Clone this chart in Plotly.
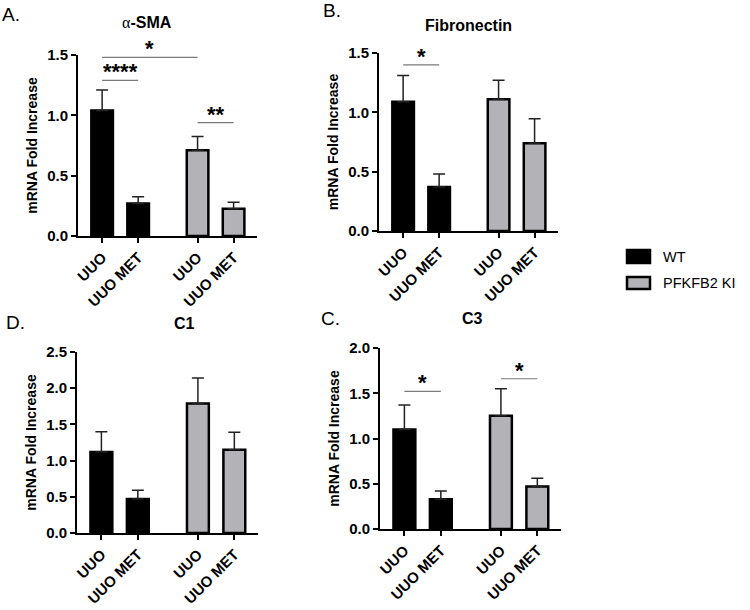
import plotly.graph_objects as go

W, H = 750, 610

# ---------------- data ----------------
categories = ["UUO", "UUO MET"]
series_names = ["WT", "PFKFB2 KI"]

sma_wt = [1.04, 0.27]
sma_wt_err = [0.17, 0.055]
sma_ki = [0.71, 0.225]
sma_ki_err = [0.115, 0.055]

fn_wt = [1.09, 0.37]
fn_wt_err = [0.22, 0.11]
fn_ki = [1.11, 0.74]
fn_ki_err = [0.16, 0.205]

c1_wt = [1.12, 0.47]
c1_wt_err = [0.28, 0.12]
c1_ki = [1.79, 1.15]
c1_ki_err = [0.35, 0.24]

c3_wt = [1.10, 0.33]
c3_wt_err = [0.27, 0.09]
c3_ki = [1.25, 0.47]
c3_ki_err = [0.30, 0.09]

# significance: (bar index from, bar index to, height, label)
sma_sig = [(0, 2, 1.48, "*"), (0, 1, 1.29, "****"), (2, 3, 0.94, "**")]
fn_sig = [(0, 1, 1.40, "*")]
c1_sig = []
c3_sig = [(0, 1, 1.52, "*"), (2, 3, 1.66, "*")]

titles = ['<span style="font-family:Liberation Serif;font-weight:normal">α</span>-SMA',
          "Fibronectin", "C1", "C3"]
letters = ["A.", "B.", "D.", "C."]
y_max = [1.5, 1.5, 2.5, 2.0]

# ---------------- layout helpers ----------------
BLACK = "#000000"
GREY = "#b3b3b7"
GAP = 2.65
XR = [-0.67, 4.3]

def px(x):
    return x / W

def py(y):
    return 1 - y / H

# panel pixel boxes: left, right, top, bottom
boxes = [
    (78, 257, 55, 236),
    (379, 558, 53, 231),
    (77, 258, 352, 533),
    (380, 561, 348, 529),
]
title_pos = [(147, 23), (468, 25), (184, 323), (472, 318)]
letter_pos = [(11, 14), (332, 11), (15, 322), (330, 318)]

panels = [
    (sma_wt, sma_wt_err, sma_ki, sma_ki_err, sma_sig),
    (fn_wt, fn_wt_err, fn_ki, fn_ki_err, fn_sig),
    (c1_wt, c1_wt_err, c1_ki, c1_ki_err, c1_sig),
    (c3_wt, c3_wt_err, c3_ki, c3_ki_err, c3_sig),
]

fig = go.Figure()
shapes = []
annotations = []
FONT = "Liberation Sans, Arial, sans-serif"

for p, (wt, wte, ki, kie, sig) in enumerate(panels):
    n = p + 1
    xa = "x" if n == 1 else f"x{n}"
    ya = "y" if n == 1 else f"y{n}"
    pos_wt = [i for i in range(len(categories))]
    pos_ki = [GAP + i for i in range(len(categories))]
    all_pos = pos_wt + pos_ki
    for vals, errs, pos, col in [(wt, wte, pos_wt, BLACK), (ki, kie, pos_ki, GREY)]:
        fig.add_trace(go.Bar(
            x=pos, y=vals, width=0.6,
            marker=dict(color=col, line=dict(color=BLACK, width=2.5)),
            error_y=dict(type="data", array=errs, arrayminus=[0] * len(errs),
                         symmetric=False, color="#222222", thickness=1.5, width=6),
            xaxis=xa, yaxis=ya, showlegend=False,
        ))
    l, r, t, b = boxes[p]
    axkw = dict(showline=True, linecolor=BLACK, linewidth=2, ticks="outside",
                ticklen=5, tickwidth=2, tickcolor=BLACK, showgrid=False, zeroline=False,
                automargin=False,
                tickfont=dict(family=FONT, size=15, color=BLACK, weight="bold"))
    fig.layout[("xaxis" if n == 1 else f"xaxis{n}")] = dict(
        domain=[px(l), px(r)], anchor=ya, range=XR,
        tickvals=all_pos, ticktext=categories * 2, tickangle=-45, **axkw)
    fig.layout[("yaxis" if n == 1 else f"yaxis{n}")] = dict(
        domain=[py(b), py(t)], anchor=xa, range=[0, y_max[p]], dtick=0.5,
        tickformat=".1f",
        title=dict(text="mRNA Fold Increase", standoff=6,
                   font=dict(family=FONT, size=14, color=BLACK, weight="bold")),
        **axkw)
    for (i0, i1, h, lab) in sig:
        shapes.append(dict(type="line", xref=xa, yref=ya, x0=all_pos[i0], x1=all_pos[i1],
                           y0=h, y1=h, line=dict(color="#7a7a7a", width=1.2)))
        annotations.append(dict(xref=xa, yref=ya, x=(all_pos[i0] + all_pos[i1]) / 2, y=h,
                                text=lab, showarrow=False, yanchor="bottom", yshift=-6,
                                font=dict(family=FONT, size=22, color=BLACK, weight="bold")))
    tx, ty = title_pos[p]
    annotations.append(dict(xref="paper", yref="paper", x=px(tx), y=py(ty), text=titles[p],
                            showarrow=False, xanchor="center", yanchor="middle",
                            font=dict(family=FONT, size=16, color=BLACK, weight="bold")))
    lx, ly = letter_pos[p]
    annotations.append(dict(xref="paper", yref="paper", x=px(lx), y=py(ly), text=letters[p],
                            showarrow=False, xanchor="center", yanchor="middle",
                            font=dict(family=FONT, size=19, color=BLACK)))

# legend (manual)
leg = [(BLACK, 250, 263), (GREY, 277, 289)]
for (col, y0, y1), name in zip(leg, series_names):
    shapes.append(dict(type="rect", xref="paper", yref="paper", x0=px(627), x1=px(650),
                       y0=py(y1), y1=py(y0), fillcolor=col,
                       line=dict(color=BLACK, width=2.5)))
    annotations.append(dict(xref="paper", yref="paper", x=px(661), y=py((y0 + y1) / 2),
                            text=name, showarrow=False, xanchor="left", yanchor="middle",
                            font=dict(family=FONT, size=14.5, color=BLACK)))

fig.update_layout(
    width=W, height=H, margin=dict(l=0, r=0, t=0, b=0),
    paper_bgcolor="white", plot_bgcolor="white",
    shapes=shapes, annotations=annotations, barmode="overlay",
)

fig.write_html("out.html", config={"displayModeBar": False},
               post_script="document.body.style.margin='0';document.body.style.overflow='hidden';")
